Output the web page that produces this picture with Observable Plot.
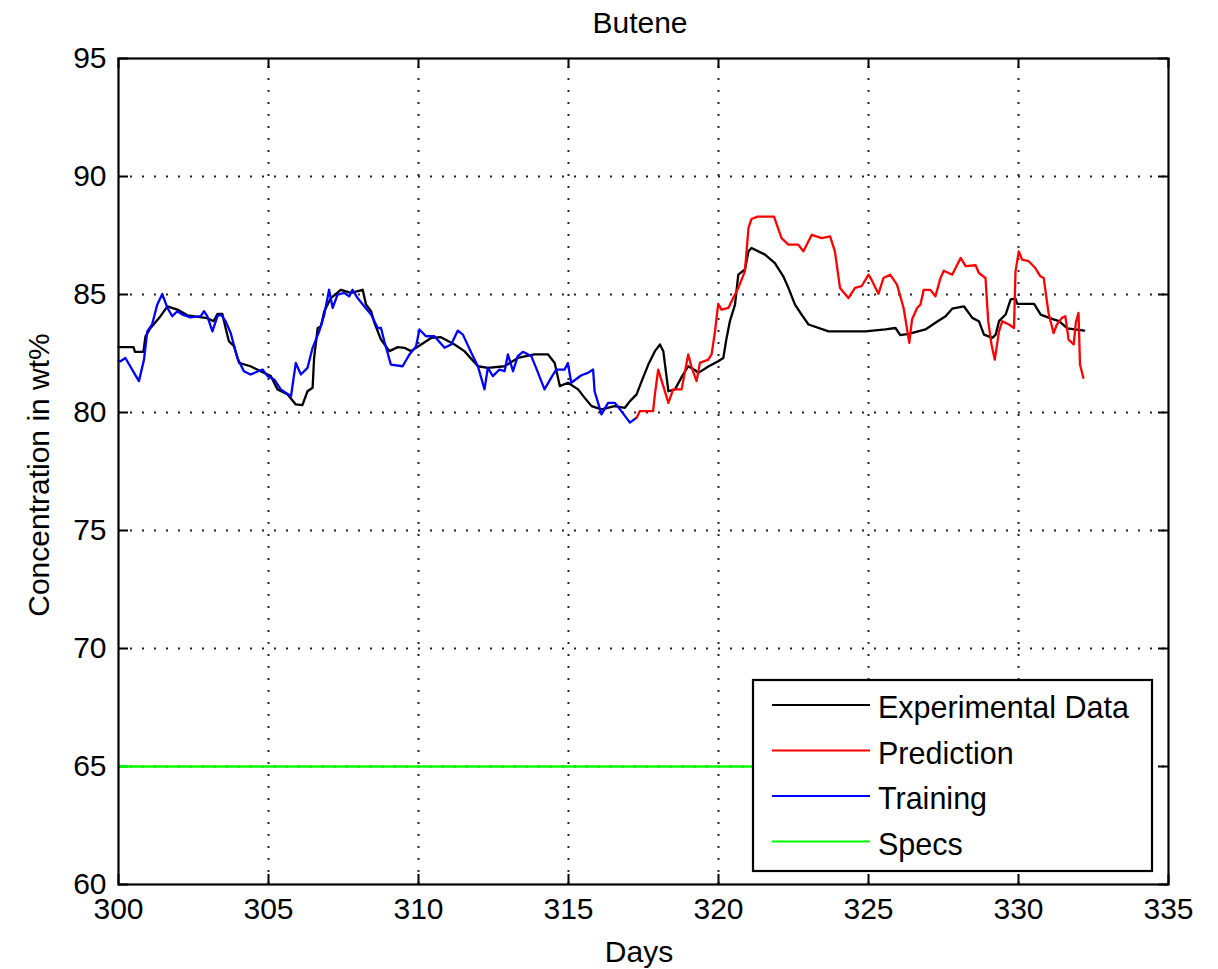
<!DOCTYPE html>
<html>
<head>
<meta charset="utf-8">
<script src="https://cdn.jsdelivr.net/npm/d3@7"></script>
<script src="https://cdn.jsdelivr.net/npm/@observablehq/plot@0.6"></script>
<style>
  html, body { margin: 0; padding: 0; background: #fff; }
  #chart svg { display: block; }
</style>
</head>
<body>
<div id="chart"></div>
<script>
// ---------- data ----------
const title = "Butene";
const xLabel = "Days";
const yLabel = "Concentration in wt%";
const xTicks = [300, 305, 310, 315, 320, 325, 330, 335];
const yTicks = [60, 65, 70, 75, 80, 85, 90, 95];
const seriesNames = ["Experimental Data", "Prediction", "Training", "Specs"];
const seriesColors = ["#000000", "#ff0000", "#0000ff", "#00ff00"];

const expDays = [300.0,300.5,300.55,300.83,300.9,301.07,301.4,301.63,301.96,302.3,302.96,303.17,303.3,303.46,303.57,303.68,303.85,304.02,304.4,304.74,305.08,305.3,305.63,305.91,306.13,306.3,306.47,306.52,306.64,306.75,306.86,307.08,307.41,307.75,308.14,308.25,308.42,308.53,308.75,309.03,309.31,309.53,309.75,310.09,310.42,310.75,311.2,311.53,311.98,312.31,312.87,313.31,313.87,314.32,314.54,314.71,314.98,315.32,315.54,315.77,316.1,316.54,316.88,317.05,317.27,317.44,317.66,317.88,318.05,318.16,318.33,318.55,318.77,318.99,319.21,319.33,319.66,319.99,320.16,320.27,320.38,320.55,320.66,320.88,321.0,321.1,321.55,321.88,322.16,322.33,322.55,322.77,323.0,323.67,324.9,325.56,325.9,326.06,326.34,326.9,327.23,327.57,327.79,328.18,328.46,328.68,328.85,329.13,329.24,329.35,329.57,329.74,329.9,329.96,330.52,330.74,331.02,331.35,331.63,332.19];
const expVals = [82.77,82.77,82.57,82.57,83.23,83.58,84.08,84.5,84.36,84.12,84.0,83.87,84.18,84.18,83.58,83.02,82.81,82.1,81.96,81.75,81.54,80.98,80.77,80.34,80.31,80.9,81.05,82.31,83.58,83.66,84.29,84.85,85.2,85.07,85.2,84.58,84.29,83.8,83.09,82.6,82.77,82.74,82.6,82.88,83.16,83.19,82.88,82.6,81.96,81.89,81.96,82.31,82.46,82.46,82.1,81.12,81.26,80.98,80.62,80.27,80.13,80.27,80.2,80.48,80.77,81.33,82.03,82.6,82.88,82.6,80.9,80.98,81.5,81.96,81.8,81.68,81.95,82.17,82.31,83.16,83.87,84.57,85.84,86.06,86.83,86.97,86.69,86.33,85.77,85.28,84.57,84.15,83.73,83.44,83.44,83.52,83.58,83.28,83.33,83.52,83.8,84.08,84.4,84.5,84.01,83.87,83.3,83.16,83.3,83.87,84.15,84.79,84.83,84.6,84.6,84.15,84.01,83.87,83.56,83.47];

const trainDays = [300.0,300.07,300.23,300.68,300.85,300.96,301.12,301.29,301.46,301.63,301.79,301.96,302.13,302.4,302.74,302.85,302.96,303.13,303.3,303.41,303.57,303.74,303.96,304.18,304.4,304.8,304.97,305.19,305.41,305.75,305.91,306.08,306.3,306.47,306.69,306.86,307.02,307.14,307.3,307.52,307.69,307.8,307.97,308.19,308.42,308.64,308.75,308.86,309.08,309.47,309.7,309.92,310.03,310.25,310.53,310.87,311.09,311.31,311.48,311.76,311.98,312.2,312.31,312.48,312.7,312.87,312.98,313.15,313.31,313.48,313.76,313.92,314.2,314.42,314.59,314.87,314.98,315.09,315.43,315.65,315.82,315.87,316.1,316.32,316.54,316.76,317.05,317.27];
const trainVals = [82.2,82.17,82.31,81.33,82.24,83.44,83.73,84.57,85.02,84.43,84.08,84.29,84.15,84.03,84.08,84.29,84.08,83.44,84.08,84.15,83.87,83.37,82.31,81.75,81.61,81.82,81.54,81.4,80.98,80.69,82.1,81.61,81.89,82.74,83.44,84.15,85.2,84.43,84.99,85.07,84.92,85.2,84.85,84.5,84.15,83.58,83.58,83.02,82.03,81.96,82.46,82.81,83.52,83.23,83.23,82.74,82.88,83.47,83.3,82.53,81.96,80.98,81.89,81.54,81.82,81.75,82.46,81.75,82.39,82.57,82.39,81.89,80.98,81.47,81.82,81.82,82.1,81.26,81.58,81.68,81.82,80.9,79.92,80.41,80.41,80.06,79.57,79.78];

const predDays = [317.27,317.38,317.82,317.88,317.99,318.16,318.33,318.49,318.77,318.99,319.11,319.27,319.38,319.66,319.77,319.88,319.99,320.1,320.33,320.49,320.66,320.88,321.0,321.1,321.3,321.85,322.1,322.33,322.66,322.83,323.11,323.44,323.72,323.88,324.05,324.33,324.55,324.77,325.0,325.1,325.33,325.5,325.72,325.95,326.17,326.36,326.45,326.62,326.73,326.84,327.06,327.23,327.4,327.51,327.79,328.07,328.24,328.57,328.68,328.9,328.99,329.1,329.21,329.35,329.46,329.68,329.85,329.9,330.01,330.12,330.34,330.56,330.73,330.84,331.01,331.17,331.28,331.45,331.56,331.67,331.84,331.91,332.0,332.05,332.16];
const predVals = [79.78,80.06,80.06,80.77,81.82,81.12,80.41,80.98,80.98,82.46,81.89,81.33,82.1,82.24,82.46,83.4,84.6,84.36,84.43,84.85,85.28,85.98,87.82,88.2,88.3,88.3,87.39,87.11,87.11,86.83,87.53,87.39,87.46,86.83,85.28,84.85,85.28,85.35,85.84,85.63,85.03,85.7,85.84,85.42,84.43,82.95,83.94,84.43,84.57,85.2,85.2,84.92,85.7,86.01,85.84,86.55,86.2,86.24,85.91,85.7,83.87,82.88,82.24,83.44,83.87,83.73,83.58,85.98,86.83,86.48,86.41,86.12,85.77,85.7,84.15,83.37,83.73,84.01,84.08,83.09,82.88,83.8,84.22,82.03,81.47];

const specsDays = [300, 330];
const specsVals = [65, 65];

// ---------- tables ----------
const toRows = (xs, ys) => xs.map((x, i) => ({x, y: ys[i]}));
const expRows = toRows(expDays, expVals);
const trainRows = toRows(trainDays, trainVals);
const predRows = toRows(predDays, predVals);
const specsRows = toRows(specsDays, specsVals);

// ---------- layout ----------
const W = 1218, H = 969;
const mL = 118, mR = 50, mT = 58, mB = 85;
const FONT = "'Liberation Sans', Arial, Helvetica, sans-serif";
const tickLen = 10;
const xDom = [300, 335], yDom = [60, 95];
const pxPerX = (W - mL - mR) / (xDom[1] - xDom[0]);
const pxPerY = (H - mT - mB) / (yDom[1] - yDom[0]);
const tx = tickLen / pxPerX, ty = tickLen / pxPerY;
const innerX = xTicks.slice(1, -1), innerY = yTicks.slice(1, -1);
const gridStyle = {stroke: "#222", strokeOpacity: 1, strokeWidth: 2, strokeDasharray: "2,10"};
const lineW = 2.3;

const plot = Plot.plot({
  width: W, height: H,
  marginLeft: mL, marginRight: mR, marginTop: mT, marginBottom: mB,
  style: {fontFamily: FONT, background: "#fff", color: "#000", overflow: "visible"},
  x: {domain: xDom, label: null},
  y: {domain: yDom, label: null},
  marks: [
    Plot.ruleX(innerX, {x: d => d, y1: yDom[0], y2: yDom[1], ...gridStyle}),
    Plot.ruleY(innerY, {y: d => d, x1: xDom[0], x2: xDom[1], ...gridStyle}),
    // inward ticks on all four sides (MATLAB style)
    Plot.ruleX(xTicks, {x: d => d, y1: yDom[0], y2: yDom[0] + ty, stroke: "#000", strokeWidth: 2}),
    Plot.ruleX(xTicks, {x: d => d, y1: yDom[1] - ty, y2: yDom[1], stroke: "#000", strokeWidth: 2}),
    Plot.ruleY(yTicks, {y: d => d, x1: xDom[0], x2: xDom[0] + tx, stroke: "#000", strokeWidth: 2}),
    Plot.ruleY(yTicks, {y: d => d, x1: xDom[1] - tx, x2: xDom[1], stroke: "#000", strokeWidth: 2}),
    Plot.axisX({ticks: xTicks, tickSize: 0, tickPadding: 13, fontSize: 30, tickFormat: d => String(d)}),
    Plot.axisY({ticks: yTicks, tickSize: 0, tickPadding: 12, fontSize: 30, tickFormat: d => String(d)}),
    Plot.line(specsRows, {x: "x", y: "y", stroke: seriesColors[3], strokeWidth: lineW}),
    Plot.line(expRows, {x: "x", y: "y", stroke: seriesColors[0], strokeWidth: lineW}),
    Plot.line(trainRows, {x: "x", y: "y", stroke: seriesColors[2], strokeWidth: lineW}),
    Plot.line(predRows, {x: "x", y: "y", stroke: seriesColors[1], strokeWidth: lineW}),
    Plot.frame({stroke: "#000", strokeWidth: 2.2})
  ]
});

document.getElementById("chart").appendChild(plot);

// ---------- title, axis labels, legend ----------
const svg = d3.select(plot);
const sx = plot.scale("x"), sy = plot.scale("y");
const cx = (sx.apply(xDom[0]) + sx.apply(xDom[1])) / 2;
const cy = (sy.apply(yDom[0]) + sy.apply(yDom[1])) / 2;

svg.append("text").text(title)
  .attr("x", cx - 3).attr("y", 33)
  .attr("text-anchor", "middle").attr("font-size", 30).attr("font-family", FONT).attr("fill", "#000");

svg.append("text").text(xLabel)
  .attr("x", cx - 4).attr("y", 962)
  .attr("text-anchor", "middle").attr("font-size", 30).attr("font-family", FONT).attr("fill", "#000");

svg.append("text").text(yLabel)
  .attr("transform", `translate(49,${cy + 4}) rotate(-90)`)
  .attr("text-anchor", "middle").attr("font-size", 30).attr("font-family", FONT).attr("fill", "#000");

const lg = svg.append("g").attr("text-anchor", "start");
const box = {x: 753, y: 680, w: 399, h: 191};
lg.append("rect").attr("x", box.x).attr("y", box.y).attr("width", box.w).attr("height", box.h)
  .attr("fill", "#fff").attr("stroke", "#000").attr("stroke-width", 2.2);
const rowY = [705, 750.5, 796, 841.5];
seriesNames.forEach((name, i) => {
  lg.append("line").attr("x1", 772).attr("x2", 870).attr("y1", rowY[i]).attr("y2", rowY[i])
    .attr("stroke", seriesColors[i]).attr("stroke-width", 2.2);
  lg.append("text").text(name).attr("x", 878).attr("y", rowY[i] + 13)
    .attr("text-anchor", "start")
    .attr("font-size", 30.5).attr("font-family", FONT).attr("fill", "#000");
});
</script>
</body>
</html>
